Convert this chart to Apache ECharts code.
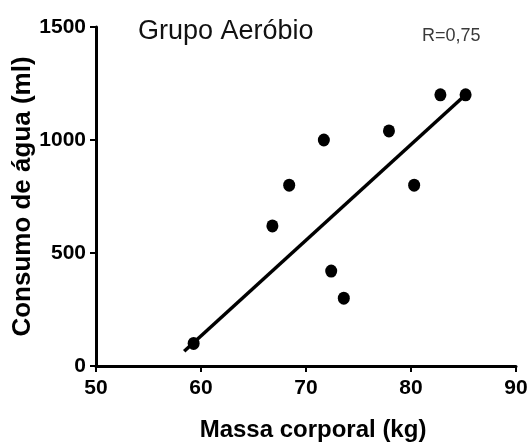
<!DOCTYPE html>
<html>
<head>
<meta charset="utf-8">
<script src="https://cdn.jsdelivr.net/npm/echarts@6/dist/echarts.min.js"></script>
<style>html,body{margin:0;padding:0;background:#fff;}#c{width:528px;height:445px;}</style>
</head>
<body>
<div id="c"></div>
<script>
// Data
var massa = [59.3, 66.8, 68.4, 71.7, 72.4, 73.6, 77.9, 80.3, 82.8, 85.2];
var consumo = [100, 620, 800, 1000, 420, 300, 1040, 800, 1200, 1200];
var lineX = [58.4, 85.2];
var lineY = [65, 1200];
var xTicks = [50, 60, 70, 80, 90];
var yTicks = [0, 500, 1000, 1500];
var titleText = 'Grupo Aeróbio';
var rText = 'R=0,75';
var xName = 'Massa corporal (kg)';
var yName = 'Consumo de água (ml)';

var pts = massa.map(function (x, i) { return [x, consumo[i]]; });
var linePts = lineX.map(function (x, i) { return [x, lineY[i]]; });

var tickFont = {fontFamily: '"Liberation Sans", Arial, sans-serif', fontWeight: 'bold', fontSize: 21, color: '#000'};
var axisLineStyle = {color: '#000', width: 3};

var chart = echarts.init(document.getElementById('c'), null, {renderer: 'canvas'});
chart.setOption({
  animation: false,
  backgroundColor: '#fff',
  grid: {left: 96, right: 12, top: 27, bottom: 79, containLabel: false, outerBoundsMode: 'none'},
  title: [
    {text: titleText, left: 133, top: 13, textStyle: {fontFamily: '"Liberation Sans", Arial, sans-serif', fontWeight: 'normal', fontSize: 27, color: '#111'}},
    {text: rText, left: 417, top: 22, textStyle: {fontFamily: '"Liberation Sans", Arial, sans-serif', fontWeight: 'normal', fontSize: 18, color: '#3a3a3a'}}
  ],
  xAxis: {
    type: 'value', min: 50, max: 90, interval: 10,
    name: xName, nameLocation: 'middle', nameGap: 52, nameMoveOverlap: false,
    nameTextStyle: {fontFamily: '"Liberation Sans", Arial, sans-serif', fontWeight: 'bold', fontSize: 24, color: '#000', padding: [0, 0, 0, 14]},
    axisLine: {show: true, onZero: false, lineStyle: axisLineStyle},
    axisTick: {show: true, inside: false, length: 6, lineStyle: {color: '#000', width: 2}},
    axisLabel: Object.assign({margin: 12, formatter: function (v) { return xTicks.indexOf(v) >= 0 ? String(v) : ''; }}, tickFont),
    splitLine: {show: false}
  },
  yAxis: {
    type: 'value', min: 0, max: 1500, interval: 500,
    name: yName, nameLocation: 'middle', nameGap: 60, nameMoveOverlap: false,
    nameTextStyle: {fontFamily: '"Liberation Sans", Arial, sans-serif', fontWeight: 'bold', fontSize: 26, color: '#000'},
    axisLine: {show: true, onZero: false, lineStyle: axisLineStyle},
    axisTick: {show: true, inside: false, length: 6, lineStyle: {color: '#000', width: 2}},
    axisLabel: Object.assign({margin: 10, formatter: function (v) { return yTicks.indexOf(v) >= 0 ? String(v) : ''; }}, tickFont),
    splitLine: {show: false}
  },
  series: [
    {type: 'line', data: linePts, symbol: 'none', lineStyle: {color: '#000', width: 3.5}, z: 2},
    {type: 'scatter', data: pts, symbol: 'circle', symbolSize: [12, 13], itemStyle: {color: '#000', opacity: 1}, z: 3}
  ]
});
</script>
</body>
</html>
